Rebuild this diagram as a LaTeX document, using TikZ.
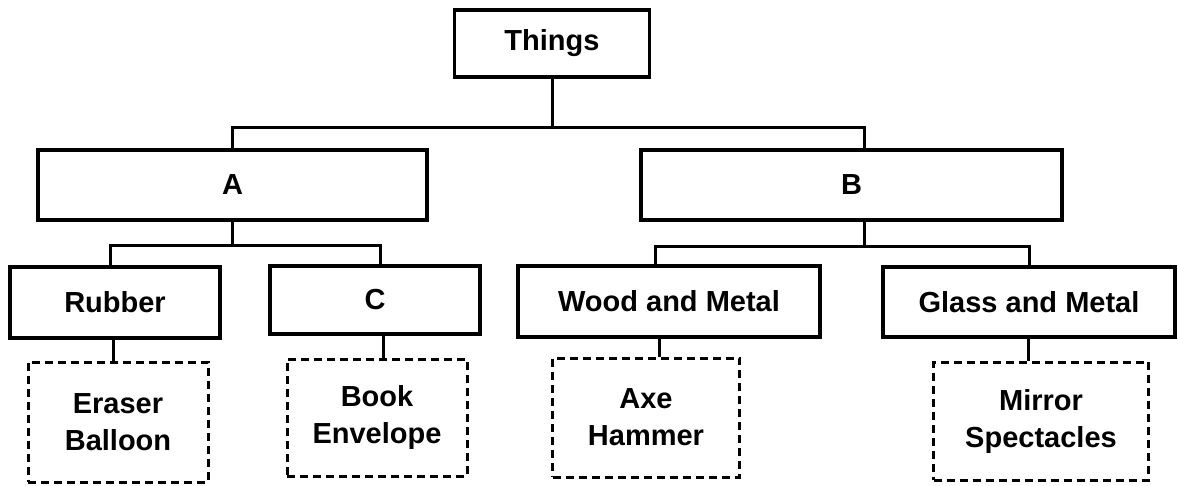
\documentclass[tikz,border=0pt]{standalone}
\usepackage{fontspec}
\setmainfont{Liberation Sans}
\begin{document}
\begin{tikzpicture}[x=1pt,y=-1pt,
  txt/.style={font=\fontsize{29}{37}\selectfont\bfseries, align=center, inner sep=0pt},
  box/.style={txt, draw, line width=3.2pt},
  dbox/.style={txt, draw, line width=3pt, dash pattern=on 8pt off 5pt},
  link/.style={line width=3pt}]
\useasboundingbox[fill=white] (0,0) rectangle (1178,485);
% level 0
\node[box, minimum width=195pt, minimum height=67pt] (things) at (552,43.5) {Things};
% level 1
\node[box, minimum width=389pt, minimum height=70pt] (A) at (232.5,185) {A};
\node[box, minimum width=421pt, minimum height=70pt] (B) at (851.5,185) {B};
% level 2
\node[box, minimum width=210pt, minimum height=71pt] (rubber) at (115,302.5) {Rubber};
\node[box, minimum width=210pt, minimum height=68pt] (C) at (375,300) {C};
\node[box, minimum width=302pt, minimum height=71pt] (wood) at (669,301.5) {Wood and Metal};
\node[box, minimum width=292pt, minimum height=70pt] (glass) at (1029,302) {Glass and Metal};
% level 3
\node[dbox, minimum width=180pt, minimum height=120pt] (eraser) at (118,422) {Eraser\\Balloon};
\node[dbox, minimum width=180pt, minimum height=117pt] (book) at (377,417.5) {Book\\Envelope};
\node[dbox, minimum width=187pt, minimum height=119pt] (axe) at (646,417.5) {Axe\\Hammer};
\node[dbox, minimum width=215pt, minimum height=118pt] (mirror) at (1041,421) {Mirror\\Spectacles};
% connectors
\coordinate (bN) at ([xshift=12.5pt]B.north);
\coordinate (bS) at ([xshift=13pt]B.south);
\coordinate (rN) at ([xshift=-5pt]rubber.north);
\coordinate (cN) at ([xshift=5pt]C.north);
\coordinate (wN) at ([xshift=-14pt]wood.north);
\draw[link] (things.south) -- ++(0,49) -| (A.north);
\draw[link] (things.south) -- ++(0,49) -| (bN);
\draw[link] (A.south) -- ++(0,24) -| (rN);
\draw[link] (A.south) -- ++(0,24) -| (cN);
\draw[link] (bS) -- ++(0,25) -| (wN);
\draw[link] (bS) -- ++(0,25) -| (glass.north);
\coordinate (rS) at ([xshift=-2pt]rubber.south);
\coordinate (cS) at ([xshift=8pt]C.south);
\coordinate (wS) at ([xshift=-10pt]wood.south);
\coordinate (gS) at ([xshift=-1pt]glass.south);
\draw[link] (rS) -- (rS |- eraser.north);
\draw[link] (cS) -- (cS |- book.north);
\draw[link] (wS) -- (wS |- axe.north);
\draw[link] (gS) -- (gS |- mirror.north);
\end{tikzpicture}
\end{document}
